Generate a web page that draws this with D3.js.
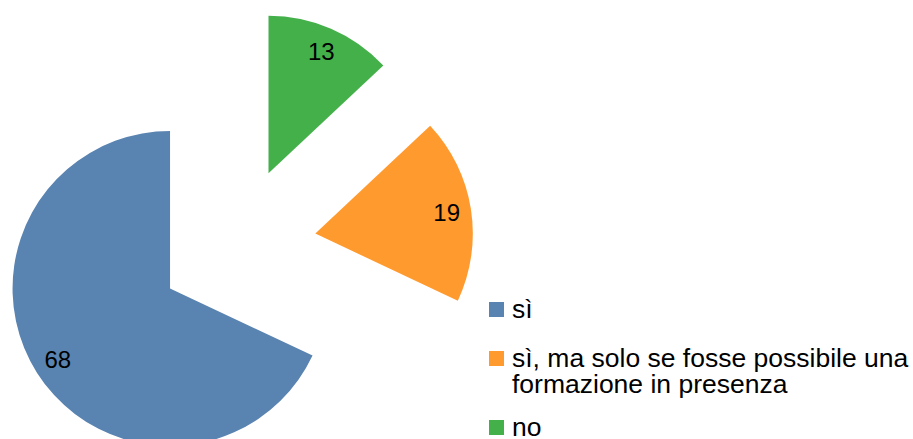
<!DOCTYPE html>
<html>
<head>
<meta charset="utf-8">
<script src="https://cdn.jsdelivr.net/npm/d3@7"></script>
<style>
  body { margin: 0; background: #fff; }
  text { font-family: "Liberation Sans", Arial, sans-serif; fill: #000; }
</style>
</head>
<body>
<div id="chart"></div>
<script>
// data
var categories = ["sì", "sì, ma solo se fosse possibile una formazione in presenza", "no"];
var values = [68, 19, 13];
var colors = ["#5983b0", "#ff9a2e", "#43b04a"];
// legend text is broken over lines the same way as the original
var legendLines = [["sì"], ["sì, ma solo se fosse possibile una", "formazione in presenza"], ["no"]];

var width = 913, height = 439;
var cx = 237, cy = 246;     // pie centre before exploding
var radius = 157.5;
var explode = 79.3;
var labelRadius = 133;

var svg = d3.select("#chart").append("svg")
    .attr("width", width)
    .attr("height", height);

var data = categories.map(function(c, i) {
    return {name: c, value: values[i], color: colors[i]};
});

// slices go counter-clockwise from 12 o'clock
var pie = d3.pie()
    .sort(null)
    .value(function(d) { return d.value; })
    .startAngle(0)
    .endAngle(-2 * Math.PI);

var arc = d3.arc().innerRadius(0).outerRadius(radius);

var arcs = pie(data);

function offset(d) {
    var mid = (d.startAngle + d.endAngle) / 2;
    return [Math.sin(mid) * explode, -Math.cos(mid) * explode];
}

var g = svg.append("g")
    .attr("transform", "translate(" + cx + "," + cy + ")");

var slice = g.selectAll(".slice")
    .data(arcs)
    .enter().append("g")
    .attr("class", "slice")
    .attr("transform", function(d) {
        var o = offset(d);
        return "translate(" + o[0] + "," + o[1] + ")";
    });

slice.append("path")
    .attr("d", arc)
    .attr("fill", function(d) { return d.data.color; });

// value labels near the rim
slice.append("text")
    .attr("x", function(d) {
        var mid = (d.startAngle + d.endAngle) / 2;
        return Math.sin(mid) * labelRadius;
    })
    .attr("y", function(d) {
        var mid = (d.startAngle + d.endAngle) / 2;
        return -Math.cos(mid) * labelRadius;
    })
    .attr("dy", "0.35em")
    .style("text-anchor", "middle")
    .style("font-size", "24px")
    .text(function(d) { return d.data.value; });

// legend
var legend = svg.append("g").attr("class", "legend");
var legendY = 302;
var lineGap = 26;
legendLines.forEach(function(lines, i) {
    var item = legend.append("g")
        .attr("transform", "translate(489," + legendY + ")");
    item.append("rect")
        .attr("width", 15)
        .attr("height", 15)
        .attr("fill", colors[i]);
    var t = item.append("text")
        .attr("x", 23)
        .attr("y", 16)
        .style("font-size", "26.5px");
    lines.forEach(function(line, j) {
        t.append("tspan")
            .attr("x", 23)
            .attr("dy", j == 0 ? 0 : lineGap)
            .text(line);
    });
    legendY += 49 + (lines.length - 1) * 20;
});
</script>
</body>
</html>
